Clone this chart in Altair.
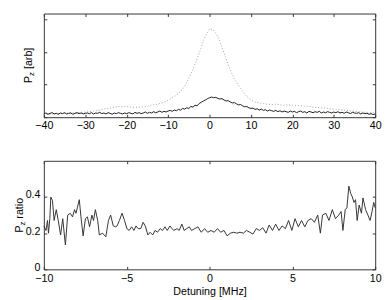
import altair as alt
import pandas as pd

# ---------------- data ----------------
TOP_X_TICKS = [-40, -30, -20, -10, 0, 10, 20, 30, 40]
TOP_Y_TICKS = [0, 1, 2, 3]
BOT_X_TICKS = [-10, -5, 0, 5, 10]
BOT_Y_TICKS = [0, 0.2, 0.4]

# solid trace, sampled every 0.5 MHz from -40 to 40
SOLID_DET = [i / 2 for i in range(-80, 81)]
SOLID_P = [
    0.10, 0.13, 0.09, 0.12, 0.14, 0.10, 0.12, 0.09, 0.13, 0.11, 0.14, 0.10, 0.12, 0.13, 0.09, 0.12, 0.14, 0.11, 0.13, 0.10, 0.12,
    0.13, 0.11, 0.14, 0.10, 0.13, 0.12, 0.15, 0.11, 0.13, 0.10, 0.14, 0.12, 0.09, 0.13, 0.11, 0.14, 0.12, 0.10, 0.13, 0.11,
    0.14, 0.12, 0.10, 0.15, 0.12, 0.14, 0.11, 0.13, 0.16, 0.12, 0.15, 0.13, 0.17, 0.14, 0.16, 0.19, 0.15, 0.18, 0.16, 0.19,
    0.21, 0.18, 0.22, 0.20, 0.24, 0.22, 0.27, 0.25, 0.29, 0.27, 0.33, 0.31, 0.37, 0.35, 0.42, 0.46, 0.50, 0.53, 0.57, 0.60,
    0.62, 0.60, 0.61, 0.58, 0.56, 0.57, 0.53, 0.50, 0.51, 0.47, 0.44, 0.45, 0.41, 0.38, 0.39, 0.35, 0.32, 0.33, 0.29, 0.27,
    0.28, 0.24, 0.26, 0.22, 0.25, 0.21, 0.23, 0.19, 0.22, 0.20, 0.18, 0.21, 0.17, 0.20, 0.16, 0.19, 0.17, 0.15, 0.19, 0.16,
    0.18, 0.14, 0.17, 0.19, 0.15, 0.17, 0.13, 0.18, 0.16, 0.14, 0.17, 0.15, 0.18, 0.13, 0.16, 0.14, 0.17, 0.15, 0.13, 0.16,
    0.14, 0.17, 0.13, 0.15, 0.12, 0.16, 0.14, 0.11, 0.15, 0.13, 0.12, 0.14, 0.10, 0.13, 0.11, 0.12, 0.09, 0.11, 0.08, 0.10,
]

# dotted trace, sampled every 1 MHz from -40 to 40
DOT_DET = list(range(-40, 41))
DOT_P = [
    0.08, 0.10, 0.09, 0.11, 0.12, 0.11, 0.13, 0.14, 0.13, 0.15, 0.16,
    0.17, 0.19, 0.21, 0.24, 0.26, 0.28, 0.31, 0.33, 0.32, 0.33,
    0.31, 0.30, 0.31, 0.32, 0.34, 0.37, 0.39, 0.42, 0.46, 0.52,
    0.60, 0.68, 0.79, 0.95, 1.20, 1.48, 1.80, 2.15, 2.50, 2.72,
    2.68, 2.48, 2.15, 1.80, 1.45, 1.18, 0.98, 0.80, 0.64, 0.53,
    0.47, 0.44, 0.42, 0.40, 0.39, 0.40, 0.38, 0.37, 0.38, 0.37,
    0.36, 0.35, 0.34, 0.33, 0.31, 0.30, 0.29, 0.28, 0.26, 0.25,
    0.24, 0.22, 0.21, 0.20, 0.18, 0.17, 0.16, 0.15, 0.14, 0.13,
]

RATIO_DET = [
    -10.0, -9.87, -9.78, -9.72, -9.64, -9.58, -9.48, -9.38, -9.25, -9.13,
    -8.99, -8.86, -8.70, -8.56, -8.41, -8.27, -8.15, -8.06, -7.98, -7.86,
    -7.76, -7.63, -7.49, -7.37, -7.24, -7.10, -7.00, -6.89, -6.75, -6.65,
    -6.46, -6.26, -6.10, -5.97, -5.81, -5.67, -5.58, -5.44, -5.28, -5.13,
    -4.99, -4.85, -4.70, -4.56, -4.44, -4.31, -4.15, -4.01, -3.88, -3.72,
    -3.59, -3.43, -3.29, -3.14, -2.98, -2.84, -2.69, -2.55, -2.39, -2.26,
    -2.16, -1.96, -1.83, -1.67, -1.53, -1.38, -1.22, -1.09, -0.89, -0.70,
    -0.50, -0.30, -0.11, 0.09, 0.28, 0.48, 0.67, 0.87, 1.06, 1.26,
    1.45, 1.65, 1.84, 2.04, 2.23, 2.43, 2.62, 2.82, 3.02, 3.21,
    3.41, 3.60, 3.80, 3.99, 4.19, 4.38, 4.58, 4.77, 4.97, 5.16,
    5.36, 5.55, 5.75, 5.94, 6.14, 6.33, 6.53, 6.69, 6.82, 7.02,
    7.21, 7.41, 7.60, 7.80, 7.94, 8.05, 8.19, 8.29, 8.41, 8.52,
    8.62, 8.72, 8.81, 8.91, 9.03, 9.17, 9.26, 9.42, 9.56, 9.69,
    9.81, 9.91, 10.0,
]
RATIO_P = [
    0.24, 0.215, 0.27, 0.20, 0.28, 0.40, 0.38, 0.27, 0.33, 0.27,
    0.19, 0.28, 0.135, 0.30, 0.31, 0.29, 0.33, 0.31, 0.34, 0.385,
    0.29, 0.185, 0.28, 0.29, 0.235, 0.30, 0.27, 0.33, 0.27, 0.19,
    0.20, 0.18, 0.27, 0.30, 0.24, 0.235, 0.24, 0.27, 0.31, 0.27,
    0.225, 0.215, 0.235, 0.215, 0.24, 0.225, 0.225, 0.26, 0.24, 0.19,
    0.205, 0.19, 0.215, 0.205, 0.225, 0.215, 0.235, 0.215, 0.24, 0.225,
    0.215, 0.225, 0.215, 0.25, 0.215, 0.225, 0.235, 0.215, 0.225, 0.235,
    0.205, 0.225, 0.205, 0.215, 0.205, 0.225, 0.205, 0.215, 0.185, 0.20,
    0.205, 0.20, 0.205, 0.20, 0.215, 0.205, 0.195, 0.225, 0.215, 0.23,
    0.20, 0.245, 0.215, 0.25, 0.215, 0.24, 0.225, 0.27, 0.215, 0.28,
    0.235, 0.27, 0.235, 0.27, 0.28, 0.26, 0.30, 0.20, 0.30, 0.31,
    0.27, 0.33, 0.28, 0.30, 0.32, 0.215, 0.33, 0.34, 0.46, 0.42,
    0.40, 0.37, 0.385, 0.27, 0.355, 0.31, 0.395, 0.33, 0.30, 0.27,
    0.32, 0.37, 0.34,
]

# ---------------- style ----------------
FONT = "Liberation Sans"
AX = "#333333"
W = 342
H_TOP = 107
H_BOT = 112


def ax(orient, values, labels, title=None, pad=4, fmt=None, loff=0):
    kw = dict(orient=orient, values=values, labels=labels, grid=False, domain=False,
              ticks=True, tickSize=3, offset=-3, labelFlush=False, labelPadding=pad,
              labelOverlap=False)
    if loff:
        kw["labelOffset"] = loff
    if fmt is not None:
        kw["format"] = fmt
    if title is not None:
        kw["title"] = title
        kw["titlePadding"] = 2
    else:
        kw["title"] = None
    return alt.Axis(**kw)


def vtext(txt, x, y, size):
    return alt.Chart(pd.DataFrame({"t": [txt]})).mark_text(
        angle=270, align="center", baseline="middle", font=FONT,
        fontSize=size, color="black"
    ).encode(x=alt.value(x), y=alt.value(y), text="t:N")


# ---------------- top panel ----------------
df_solid = pd.DataFrame({"f": SOLID_DET, "p": SOLID_P})
df_dot = pd.DataFrame({"f": DOT_DET, "p": DOT_P})
xs_top = alt.Scale(domain=[-40, 40], nice=False, zero=False)
ys_top = alt.Scale(domain=[0, 3.19], nice=False, zero=False)

dotted = alt.Chart(df_dot).mark_line(color="#a0a0a0", strokeWidth=1, strokeDash=[1, 2]).encode(
    x=alt.X("f:Q", scale=xs_top, axis=None),
    y=alt.Y("p:Q", scale=ys_top, axis=None),
)
solid = alt.Chart(df_solid).mark_line(color="#1a1a1a", strokeWidth=1).encode(
    x=alt.X("f:Q", scale=xs_top, axis=ax("bottom", TOP_X_TICKS, True, pad=3)),
    y=alt.Y("p:Q", scale=ys_top, axis=ax("left", TOP_Y_TICKS, False)),
)
mirror_top = alt.Chart(df_solid).mark_line(strokeOpacity=0).encode(
    x=alt.X("f:Q", scale=xs_top, axis=ax("top", TOP_X_TICKS, False)),
    y=alt.Y("p:Q", scale=ys_top, axis=ax("right", TOP_Y_TICKS, False)),
)
top = alt.layer(
    dotted, solid, mirror_top,
    vtext("P", -15, 68, 11), vtext("z", -12, 62.4, 8), vtext("[arb]", -15, 46.3, 11),
).resolve_axis(x="independent", y="independent").properties(width=W, height=H_TOP)

# ---------------- bottom panel ----------------
df_ratio = pd.DataFrame({"f": RATIO_DET, "r": RATIO_P})
xs_bot = alt.Scale(domain=[-10, 10], nice=False, zero=False)
ys_bot = alt.Scale(domain=[0, 0.6], nice=False, zero=False)

ratio = alt.Chart(df_ratio).mark_line(color="#333333", strokeWidth=1).encode(
    x=alt.X("f:Q", scale=xs_bot, axis=ax("bottom", BOT_X_TICKS, True, "Detuning [MHz]", pad=4)),
    y=alt.Y("r:Q", scale=ys_bot, axis=ax("left", BOT_Y_TICKS, True, fmt=".1~f", loff=-2)),
)
mirror_bot = alt.Chart(df_ratio).mark_line(strokeOpacity=0).encode(
    x=alt.X("f:Q", scale=xs_bot, axis=ax("top", BOT_X_TICKS, False)),
    y=alt.Y("r:Q", scale=ys_bot, axis=ax("right", BOT_Y_TICKS, False)),
)
bottom = alt.layer(
    ratio, mirror_bot,
    vtext("P", -24.5, 70.4, 11), vtext("z", -21.5, 64.8, 8), vtext("ratio", -24.5, 49.0, 11),
).resolve_axis(x="independent", y="independent").properties(width=W, height=H_BOT)

chart = alt.vconcat(top, bottom, spacing=29).properties(
    padding={"left": 6, "top": 0, "right": 0, "bottom": 0}
).configure_view(stroke=AX, strokeWidth=1).configure_axis(
    labelFont=FONT, labelFontSize=11, labelColor="black", tickColor=AX, tickWidth=1,
    titleFont=FONT, titleFontSize=11, titleFontWeight="normal", titleColor="black",
)

chart.save("out.html", embed_options={"renderer": "svg", "actions": False})
